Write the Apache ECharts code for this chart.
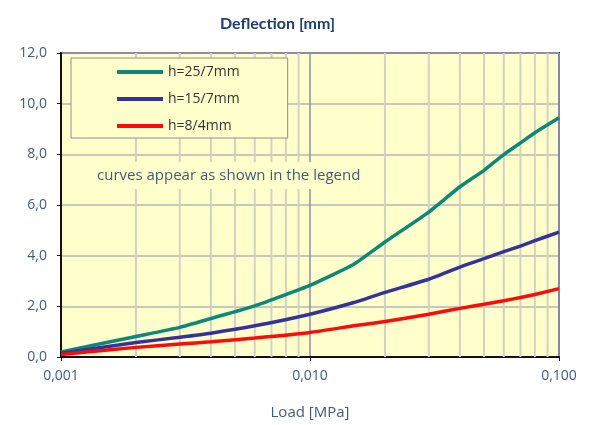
<!DOCTYPE html>
<html>
<head>
<meta charset="utf-8">
<script src="https://cdn.jsdelivr.net/npm/echarts@6/dist/echarts.min.js"></script>
<style>
  html, body { margin: 0; padding: 0; background: #fff; }
  #chart { width: 594px; height: 425px; }
</style>
</head>
<body>
<div id="chart"></div>
<script>
// load values (MPa) where the curves were read
const loads = [0.001, 0.002, 0.003, 0.004, 0.006, 0.01, 0.015, 0.02, 0.03, 0.04, 0.05, 0.06, 0.07, 0.08, 0.1];
const h25 = [0.2, 0.81, 1.17, 1.52, 2.02, 2.83, 3.66, 4.54, 5.72, 6.72, 7.37, 7.99, 8.45, 8.85, 9.44];
const h15 = [0.15, 0.57, 0.78, 0.94, 1.23, 1.69, 2.15, 2.55, 3.07, 3.55, 3.88, 4.16, 4.38, 4.59, 4.93];
const h8 = [0.1, 0.38, 0.51, 0.6, 0.75, 0.97, 1.23, 1.4, 1.69, 1.92, 2.08, 2.22, 2.35, 2.47, 2.7];
const seriesNames = ['h=25/7mm', 'h=15/7mm', 'h=8/4mm'];
// log grid lines between the decades
const minorLoads = [0.002, 0.003, 0.004, 0.005, 0.006, 0.007, 0.008, 0.009,
  0.02, 0.03, 0.04, 0.05, 0.06, 0.07, 0.08, 0.09];
const yMin = 0, yMax = 12;

const font = 'Open Sans';
const labelColor = '#3f5a86';

function pairs(ys) {
  return loads.map((x, i) => [x, ys[i]]);
}

// one thin vertical line per minor load value
const minorSeries = minorLoads.map(v => ({
  type: 'line',
  z: 1,
  silent: true,
  showSymbol: false,
  data: [[v, yMin], [v, yMax]],
  lineStyle: { color: '#d2d2c4', width: 2 }
}));

const chart = echarts.init(document.getElementById('chart'));
chart.setOption({
  animation: false,
  title: [
    {
      text: 'Deflection [mm]',
      left: 215, top: 11,
      textStyle: { fontFamily: 'Lato', fontSize: 16, fontWeight: 'bold', color: '#1f3d6e' }
    },
    {
      text: 'curves appear as shown in the legend',
      left: 89, top: 162,
      padding: [6, 8, 6, 8],
      backgroundColor: '#ffffcc',
      textStyle: { fontFamily: font, fontSize: 15, fontWeight: 'normal', color: '#3f5a7a' }
    }
  ],
  legend: {
    data: seriesNames,
    orient: 'vertical',
    left: 71, top: 58,
    padding: [7, 48, 5, 46],
    itemGap: 13,
    itemWidth: 46, itemHeight: 4,
    icon: 'rect',
    backgroundColor: '#ffffcc',
    borderColor: '#909090',
    borderWidth: 1,
    textStyle: { fontFamily: font, fontSize: 14, color: '#333' }
  },
  grid: {
    left: 61, right: 35, top: 53, bottom: 67,
    show: true,
    backgroundColor: '#ffffcc',
    borderColor: '#1a1a88',
    borderWidth: 2
  },
  xAxis: {
    type: 'log',
    logBase: 10,
    min: 0.001, max: 0.1,
    name: 'Load [MPa]',
    nameLocation: 'middle',
    nameGap: 48,
    nameTextStyle: { fontFamily: font, fontSize: 15, color: labelColor },
    axisLine: { lineStyle: { color: '#111', width: 2 } },
    axisTick: { show: true, length: 4, lineStyle: { color: '#111' } },
    axisLabel: {
      fontFamily: font, fontSize: 14, color: labelColor, margin: 12,
      formatter: v => v.toFixed(3).replace('.', ',')
    },
    splitLine: { show: true, lineStyle: { color: '#8c8cb0', width: 1.5 } }
  },
  yAxis: {
    type: 'value',
    min: yMin, max: yMax, interval: 2,
    axisLine: { show: true, lineStyle: { color: '#111', width: 2 } },
    axisTick: { show: true, length: 4, lineStyle: { color: '#111' } },
    axisLabel: {
      fontFamily: font, fontSize: 14, color: labelColor, margin: 14,
      formatter: v => v.toFixed(1).replace('.', ',')
    },
    splitLine: { show: true, lineStyle: { color: '#b4b4b4', width: 1.5 } }
  },
  series: minorSeries.concat([
    {
      name: seriesNames[0], type: 'line', z: 3,
      data: pairs(h25), smooth: 0.15, showSymbol: false,
      color: '#0b887a',
      lineStyle: { width: 3.5, color: '#0b887a' }
    },
    {
      name: seriesNames[1], type: 'line', z: 3,
      data: pairs(h15), smooth: 0.15, showSymbol: false,
      color: '#35339a',
      lineStyle: { width: 3.5, color: '#35339a' }
    },
    {
      name: seriesNames[2], type: 'line', z: 3,
      data: pairs(h8), smooth: 0.15, showSymbol: false,
      color: '#ff0a0a',
      lineStyle: { width: 3.5, color: '#ff0a0a' }
    }
  ])
});
</script>
</body>
</html>
